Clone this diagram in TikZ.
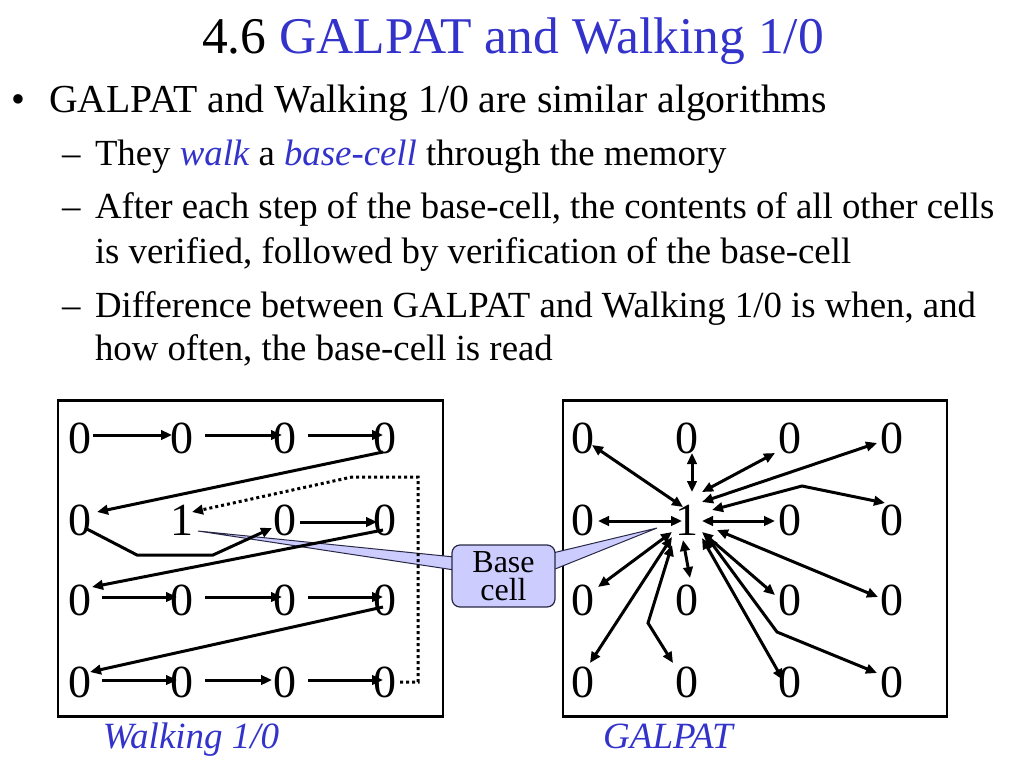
\documentclass[tikz,border=0pt]{standalone}
\usepackage{fontspec}
\setmainfont{Liberation Serif}
\usetikzlibrary{arrows.meta,calc}
\definecolor{ttlblue}{RGB}{51,51,204}
\definecolor{callfill}{RGB}{204,204,255}
\definecolor{callline}{RGB}{40,40,70}
\pgfdeclarelayer{paper}
\pgfdeclarelayer{bg}
\pgfdeclarelayer{wedge}
\pgfdeclarelayer{top}
\pgfsetlayers{paper,bg,wedge,main,top}
\begin{document}
\begin{tikzpicture}[x=1pt,y=-1pt,
  txt/.style={anchor=base west,inner sep=0pt,outer sep=0pt},
  titlefont/.style={font=\fontsize{51.5}{56}\selectfont},
  bodyfont/.style={font=\fontsize{39.7}{44}\selectfont},
  subfont/.style={font=\fontsize{36.8}{42}\selectfont},
  digit/.style={inner sep=0pt,outer sep=0pt,font=\fontsize{46}{50}\selectfont},
  membox/.style={draw,line width=2.8pt,inner sep=0pt,minimum height=316pt},
  walk/.style={line width=3pt,-{Triangle[length=11pt,width=9.5pt]}},
  dotwalk/.style={line width=3pt,dash pattern=on 3pt off 3pt,-{Triangle[length=11pt,width=9.5pt]}},
  both/.style={line width=3pt,{Triangle[length=11pt,width=9.5pt]}-{Triangle[length=11pt,width=9.5pt]}},
  callout/.style={draw=callline,fill=callfill,line width=1.2pt,rounded corners=8pt,
     minimum width=103pt,minimum height=62pt,inner sep=0pt,align=center,
     font=\fontsize{32}{28}\selectfont},
  wedgest/.style={draw=callline,fill=callfill,line width=1pt,line join=miter},
  lbl/.style={anchor=base,inner sep=0pt,text=ttlblue,font=\fontsize{37}{40}\selectfont\itshape}
]
\begin{pgfonlayer}{paper}
\fill[white] (0,0) rectangle (1024,768);
\end{pgfonlayer}
\useasboundingbox (0,0) rectangle (1024,768);

% title
\node[anchor=base,inner sep=0pt,titlefont] (title) at (513,53) {4.6 \textcolor{ttlblue}{GALPAT and Walking 1/0}};

% bullets
\node[txt,bodyfont] (dot1) at (12,112) {•};
\node[txt,bodyfont] (b1) at (49,112) {GALPAT and Walking 1/0 are similar algorithms};
\node[txt,subfont] (d1) at (62,165) {–};
\node[txt,subfont] (s1) at (95,165) {They \textcolor{ttlblue}{\itshape walk} a \textcolor{ttlblue}{\itshape base-cell} through the memory};
\node[txt,subfont] (d2) at (62,218) {–};
\node[txt,subfont] (s2a) at (95,218) {After each step of the base-cell, the contents of all other cells};
\node[txt,subfont] (s2b) at (95,263) {is verified, followed by verification of the base-cell};
\node[txt,subfont] (d3) at (62,317) {–};
\node[txt,subfont] (s3a) at (95,317) {Difference between GALPAT and Walking 1/0 is when, and};
\node[txt,subfont] (s3b) at (95,360) {how often, the base-cell is read};

% boxes
\begin{pgfonlayer}{bg}
\node[membox,minimum width=385pt] (LB) at (250.5,558.5) {};
\node[membox,minimum width=384pt] (RB) at (755,558.5) {};
\end{pgfonlayer}

% cells
\foreach \c/\x in {1/80,2/182,3/285,4/385}
  \foreach \r/\y in {1/438,2/520,3/600,4/682}
    {\node[digit] (L\r\c) at (\x,\y) {\ifnum\r\c=22 1\else 0\fi};}
\foreach \c/\x in {1/583,2/687,3/790,4/892}
  \foreach \r/\y in {1/438,2/520,3/600,4/682}
    {\node[digit] (R\r\c) at (\x,\y) {\ifnum\r\c=22 1\else 0\fi};}

% bend points
\coordinate (bA) at (137,555);
\coordinate (bB) at (213,555);
\coordinate (dA) at (418,682);
\coordinate (dB) at (418,477);
\coordinate (dC) at (352,477);
\coordinate (rA) at (802,486);
\coordinate (rB) at (648,623);
\coordinate (rC) at (777,632);

% Walking 1/0
\draw[walk] ($(L11)+(13,-3)$) -- ($(L12)+(-10,-3)$);
\draw[walk] ($(L12)+(23,-3)$) -- ($(L13)+(-3,-3)$);
\draw[walk] ($(L13)+(23,-3)$) -- ($(L14)+(-2,-3)$);
\draw[walk] ($(L14)+(-2,14)$) -- ($(L21)+(17,-8)$);
\draw[walk] ($(L21)+(5,8)$) -- (bA) -- (bB) -- ($(L23)+(-13,8)$);
\draw[walk] ($(L23)+(15,2)$) -- ($(L24)+(-8,2)$);
\draw[walk] ($(L24)+(-2,10)$) -- ($(L31)+(12,-13)$);
\draw[walk] ($(L31)+(22,-3)$) -- ($(L32)+(-5,-3)$);
\draw[walk] ($(L32)+(23,-3)$) -- ($(L33)+(-3,-3)$);
\draw[walk] ($(L33)+(23,-3)$) -- ($(L34)+(-2,-3)$);
\draw[walk] ($(L34)+(-2,7)$) -- ($(L41)+(10,-10)$);
\draw[walk] ($(L41)+(22,-2)$) -- ($(L42)+(-5,-2)$);
\draw[walk] ($(L42)+(23,-2)$) -- ($(L43)+(-13,-2)$);
\draw[walk] ($(L43)+(23,-2)$) -- ($(L44)+(-2,-2)$);
\draw[dotwalk] ($(L44)+(15,0)$) -- (dA) -- (dB) -- (dC) -- ($(L22)+(10,-8)$);

% GALPAT
\draw[both] ($(R11)+(9,7)$) -- ($(R22)+(-4,-13)$);
\draw[both] ($(R12)+(5,15)$) -- ($(R22)+(5,-28)$);
\draw[both] ($(R13)+(-15,15)$) -- ($(R22)+(15,-28)$);
\draw[both] ($(R14)+(-15,5)$) -- ($(R22)+(15,-18)$);
\draw[both] ($(R24)+(-7,-17)$) -- (rA) -- ($(R22)+(25,-10)$);
\draw[both] ($(R21)+(15,1)$) -- ($(R22)+(-5,1)$);
\draw[both] ($(R22)+(15,1)$) -- ($(R23)+(-15,1)$);
\draw[both] ($(R22)+(30,10)$) -- ($(R34)+(-14,-3)$);
\draw[both] ($(R22)+(-15,12)$) -- ($(R31)+(15,-13)$);
\draw[both] ($(R22)+(-4,20)$) -- ($(R32)+(3,-22)$);
\draw[both] ($(R22)+(15,12)$) -- ($(R33)+(-15,-5)$);
\draw[both] ($(R22)+(-15,17)$) -- ($(R41)+(7,-19)$);
\draw[both] ($(R22)+(-15,25)$) -- (rB) -- ($(R42)+(-14,-19)$);
\draw[both] ($(R22)+(15,18)$) -- ($(R43)+(-7,-2)$);
\draw[both] ($(R22)+(20,17)$) -- (rC) -- ($(R44)+(-15,-9)$);

% callout
\begin{pgfonlayer}{top}
\node[callout] (base) at (503.5,576) {Base\\cell};
\end{pgfonlayer}
\coordinate (tipL) at ($(L22)+(16,11)$);
\coordinate (tipR) at ($(R22)+(-30,8)$);
\begin{pgfonlayer}{wedge}
\path[wedgest] (tipL) -- ($(base.west)+(3,-19)$) -- ($(base.west)+(3,-6)$) -- cycle;
\path[wedgest] (tipR) -- ($(base.east)+(-3,-23)$) -- ($(base.east)+(-3,-6)$) -- cycle;
\end{pgfonlayer}

% labels
\node[lbl] (lblL) at (191,748) {Walking 1/0};
\node[lbl] (lblR) at (668,748) {GALPAT};
\end{tikzpicture}
\end{document}
